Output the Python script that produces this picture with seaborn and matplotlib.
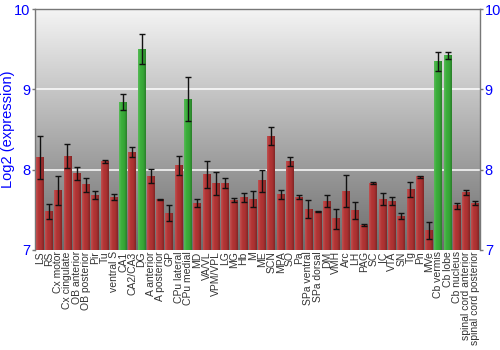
import numpy as np
import pandas as pd
import matplotlib
matplotlib.use("Agg")
import matplotlib.pyplot as plt
import seaborn as sns
from matplotlib.colors import LinearSegmentedColormap, to_rgb

regions = ["LS", "RS", "Cx motor", "Cx cingulate", "OB anterior", "OB posterior", "Pir", "Tu",
           "ventral S", "CA1", "CA2/CA3", "DG", "A anterior", "A posterior", "GP", "CPu lateral",
           "CPu medial", "MD", "VA/VL", "VPM/VPL", "LG", "MG", "Hb", "M", "ME", "SCN", "MPA", "SO",
           "Pa", "SPa ventral", "SPa dorsal", "DM", "VMH", "Arc", "LH", "PAG", "SC", "IC", "VTA",
           "SN", "Tg", "Pn", "MVe", "Cb vermis", "Cb lobe", "Cb nucleus",
           "spinal cord anterior", "spinal cord posterior"]
expression = [8.15, 7.48, 7.74, 8.17, 7.95, 7.81, 7.68, 8.10,
              7.66, 8.84, 8.22, 9.50, 7.92, 7.63, 7.46, 8.05,
              8.88, 7.585, 7.94, 7.83, 7.83, 7.62, 7.65, 7.635, 7.86, 8.42, 7.69, 8.10,
              7.66, 7.51, 7.48, 7.61, 7.39, 7.73, 7.49, 7.31, 7.83, 7.635, 7.61,
              7.42, 7.755, 7.91, 7.24, 9.35, 9.42, 7.55,
              7.72, 7.585]
errors = [0.27, 0.09, 0.18, 0.15, 0.08, 0.09, 0.05, 0.02,
          0.04, 0.10, 0.06, 0.19, 0.085, 0.01, 0.10, 0.12,
          0.27, 0.055, 0.17, 0.14, 0.06, 0.025, 0.055, 0.10, 0.14, 0.11, 0.06, 0.055,
          0.025, 0.11, 0.01, 0.075, 0.125, 0.20, 0.11, 0.01, 0.015, 0.07, 0.045,
          0.04, 0.09, 0.01, 0.11, 0.115, 0.045, 0.04,
          0.03, 0.025]
highlighted = ["CA1", "DG", "CPu medial", "Cb vermis", "Cb lobe"]

RED = "#b33434"
GREEN = "#3aae3a"

df = pd.DataFrame({"region": regions, "expression": expression, "err": errors})
palette = {r: (GREEN if r in highlighted else RED) for r in regions}

sns.set_style("white")
plt.rcParams["font.family"] = ["Liberation Sans", "DejaVu Sans"]
fig = plt.figure(figsize=(5, 3.5), dpi=100)
ax = fig.add_axes([0.07, 0.286, 0.89, 0.688])

# gradient background
grad = np.linspace(0, 1, 256).reshape(-1, 1)
cmap = LinearSegmentedColormap.from_list("bg", ["#f4f4f4", "#6c6c6c"])
ax.imshow(grad, aspect="auto", cmap=cmap, extent=[0, 1, 0, 1],
          transform=ax.transAxes, zorder=0)

sns.barplot(data=df, x="region", y="expression", hue="region", palette=palette,
            legend=False, ax=ax, width=0.85, saturation=1, zorder=3, linewidth=0)

ax.set_ylim(7, 10)
ax.set_xlim(-0.5, len(regions) - 0.5)
ymin = ax.get_ylim()[0]

# subtle horizontal shading on each bar
def shade(c, f):
    r = np.array(to_rgb(c))
    return tuple(np.clip(r * f, 0, 1)) if f < 1 else tuple(r + (1 - r) * (f - 1))

for p in list(ax.patches):
    fc = p.get_facecolor()[:3]
    cm = LinearSegmentedColormap.from_list(
        "b", [shade(fc, 1.15), shade(fc, 1.0), shade(fc, 0.95), shade(fc, 0.72)])
    x0 = p.get_x()
    w = p.get_width()
    top = p.get_y() + p.get_height()
    ax.imshow(np.linspace(0, 1, 64).reshape(1, -1), aspect="auto", cmap=cm,
              extent=[x0, x0 + w, ymin, top], zorder=3.5, interpolation="bilinear")

ax.errorbar(np.arange(len(regions)), df["expression"], yerr=df["err"], fmt="none",
            ecolor="#111111", elinewidth=1, capsize=2, capthick=1, zorder=4)

ax.set_ylim(7, 10)
ax.set_xlim(-0.5, len(regions) - 0.5)
ax.set_yticks([7, 8, 9, 10])
for y in [8, 9]:
    ax.axhline(y, color="white", lw=1.2, alpha=0.9, zorder=1)

ax.set_xlabel("")
ax.set_ylabel("Log2 (expression)", color="blue", fontsize=10.5)
ax.yaxis.set_label_coords(-0.045, 0.5)
ax.tick_params(axis="y", labelcolor="blue", labelsize=10.5, left=True, right=True,
               labelleft=True, labelright=True, length=2.5, width=1, pad=1,
               color="#777777")
ax.tick_params(axis="x", labelsize=7.5, rotation=90, length=0, pad=1)
for lbl in ax.get_xticklabels():
    lbl.set_color("#333333")
for s in ["top", "right", "left"]:
    ax.spines[s].set_color("#777777")
    ax.spines[s].set_linewidth(1)
ax.spines["bottom"].set_visible(False)

fig.savefig("out.png", dpi=100)
